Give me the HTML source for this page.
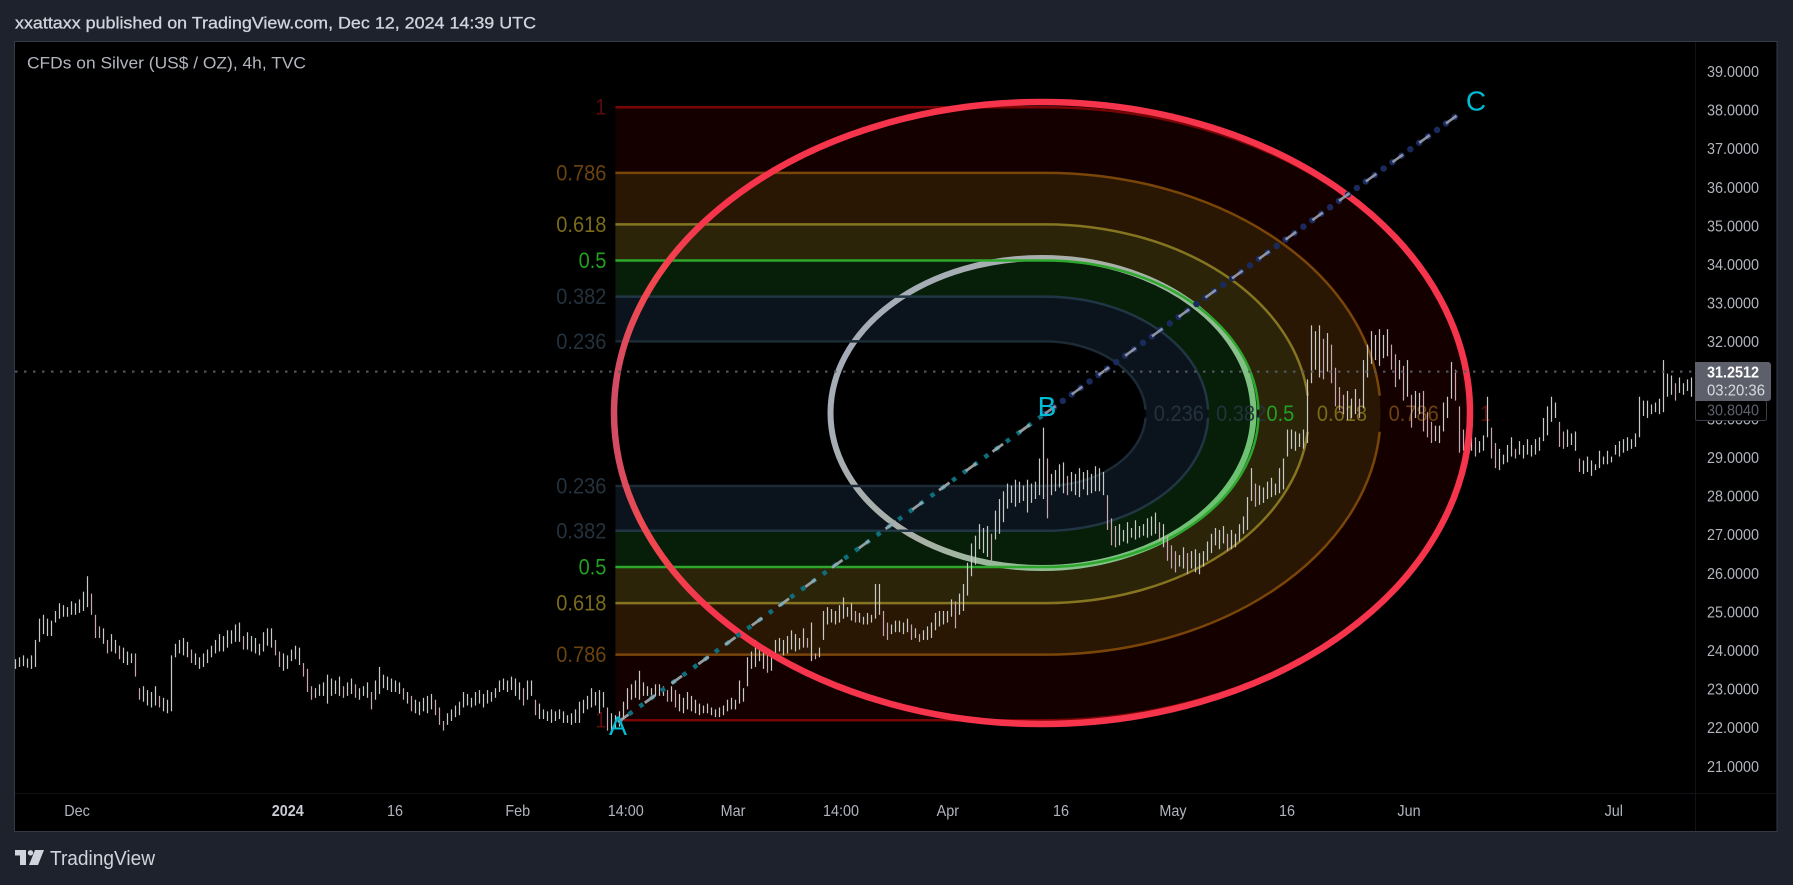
<!DOCTYPE html>
<html lang="en">
<head>
<meta charset="utf-8">
<title>CFDs on Silver 4h chart</title>
<style>
html,body{margin:0;padding:0;background:#1e222d;width:1793px;height:885px;overflow:hidden}
svg{display:block}
text{font-family:"Liberation Sans",sans-serif}
</style>
</head>
<body>
<svg id="root" xmlns="http://www.w3.org/2000/svg" width="1793" height="885" viewBox="0 0 1793 885">
  <defs>
    <linearGradient id="outerGrad" gradientUnits="userSpaceOnUse" x1="612" y1="0" x2="710" y2="0">
      <stop offset="0" stop-color="#d04c66"/>
      <stop offset="0.3" stop-color="#ee4a50"/>
      <stop offset="1" stop-color="#f6344c"/>
    </linearGradient>
    <linearGradient id="innerGrad" gradientUnits="userSpaceOnUse" x1="830" y1="260" x2="1250" y2="570">
      <stop offset="0" stop-color="#a4abbd"/>
      <stop offset="0.45" stop-color="#aab0a8"/>
      <stop offset="0.72" stop-color="#8cc08f"/>
      <stop offset="1" stop-color="#50c455"/>
    </linearGradient>
  </defs>
  <rect x="0" y="0" width="1793" height="885" fill="#1e222d"/>
  <text x="15" y="23" dominant-baseline="central" font-size="17" fill="#d1d4dc" stroke="#d1d4dc" stroke-width="0.3" textLength="521" lengthAdjust="spacingAndGlyphs">xxattaxx published on TradingView.com, Dec 12, 2024 14:39 UTC</text>
  <rect x="14.5" y="41.5" width="1762.5" height="790" fill="#000" stroke="#363a45" stroke-width="1"/>
  <g id="bands"></g>
  <ellipse cx="1042" cy="413" rx="211.5" ry="155" fill="none" stroke="url(#innerGrad)" stroke-width="6"/>
  <g id="levels"></g>
  <g id="bars"></g>
  <ellipse cx="1042" cy="413" rx="428" ry="311" fill="none" stroke="url(#outerGrad)" stroke-width="6.5"/>
  <g id="abc"></g>
  <g id="lastLine"></g>
  <line x1="1695.5" y1="42" x2="1695.5" y2="831" stroke="#121318" stroke-width="1"/>
  <line x1="15" y1="793.5" x2="1776" y2="793.5" stroke="#121318" stroke-width="1"/>
  <g id="priceAxis"></g>
  <g id="timeAxis"></g>
  <text x="27" y="63.5" dominant-baseline="central" font-size="16.5" fill="#b2b5be" textLength="279" lengthAdjust="spacingAndGlyphs">CFDs on Silver (US$ / OZ), 4h, TVC</text>
  <g>
    <rect x="1695.5" y="400.5" width="71" height="20" rx="2" fill="#000" stroke="#3a3d47" stroke-width="1"/>
    <text x="1707" y="411" dominant-baseline="central" font-size="16" fill="#5d606b" textLength="52" lengthAdjust="spacingAndGlyphs">30.8040</text>
  </g>
  <g>
    <path d="M1695 362H1768a3 3 0 0 1 3 3V398a3 3 0 0 1 -3 3H1695Z" fill="#5d606b"/>
    <text x="1707" y="373" dominant-baseline="central" font-size="16" font-weight="700" fill="#fff" textLength="52" lengthAdjust="spacingAndGlyphs">31.2512</text>
    <text x="1707" y="391" dominant-baseline="central" font-size="15.5" fill="#d8dae0" textLength="58" lengthAdjust="spacingAndGlyphs">03:20:36</text>
  </g>
  <g>
    <path d="M15 850H26V865H20V855.500H15ZM35 850H44L38 865H29Z" fill="#d1d4dc"/>
    <circle cx="30.500" cy="852.800" r="2.700" fill="#d1d4dc"/>
    <text x="50" y="859" dominant-baseline="central" font-size="20" fill="#d1d4dc" textLength="105" lengthAdjust="spacingAndGlyphs">TradingView</text>
  </g>
</svg>
<script>
const highs = [
23.80,23.85,23.90,23.82,23.90,24.30,
24.85,24.95,24.85,24.80,
25.05,25.25,25.20,25.15,25.30,25.25,25.35,
25.55,25.95,25.50,
24.95,
24.65,24.60,24.30,24.45,24.30,
24.15,24.10,24.00,23.95,23.95,
23.05,23.10,23.00,22.95,23.10,22.85,22.80,22.75,
23.90,
24.20,24.30,24.35,24.25,
24.05,23.95,23.85,23.95,
24.05,24.15,24.30,24.45,24.40,
24.55,24.55,24.70,24.75,
24.40,24.50,24.40,24.35,24.20,24.50,
24.60,24.60,24.30,
24.00,23.95,23.90,
24.05,24.15,24.10,
23.70,23.55,
23.10,23.05,23.15,23.20,23.40,23.30,23.25,23.35,23.10,23.20,23.30,23.15,23.05,23.10,23.20,22.95,
23.25,23.60,
23.40,23.35,23.30,23.25,23.20,23.05,
22.95,22.85,22.75,22.70,22.80,22.85,22.90,22.75,22.55,
22.20,22.40,22.50,22.60,22.70,
22.95,22.90,22.80,22.95,23.00,22.90,23.00,22.95,
23.05,23.25,23.30,23.25,23.35,23.30,23.20,23.05,23.25,23.25,
22.75,22.65,22.50,22.45,22.50,22.45,22.50,22.45,22.35,22.40,22.50,
22.70,22.75,22.85,23.05,22.95,23.00,22.95,
22.55,22.40,22.35,
22.45,22.70,23.05,23.15,23.25,
23.50,
23.20,23.10,23.05,23.15,23.15,23.10,23.00,23.10,
23.00,22.90,22.80,22.95,22.85,
22.75,22.65,22.60,22.65,22.55,22.50,22.55,
22.60,22.75,22.80,22.75,23.25,
23.05,23.85,
24.00,24.30,24.05,24.10,23.95,23.85,
24.30,24.35,24.30,24.40,
24.55,24.45,24.35,24.60,24.35,
24.75,23.95,24.10,
25.05,25.15,25.10,25.05,
25.20,25.40,25.15,25.25,25.05,25.00,24.90,25.00,24.95,
25.75,25.75,
25.05,24.75,24.70,24.80,24.80,24.75,24.85,24.70,
24.60,24.45,24.55,24.65,24.75,
25.00,25.05,25.05,25.05,
25.35,25.30,25.50,
25.75,26.30,
26.80,27.00,
27.30,27.20,27.25,27.05,
27.65,27.95,28.15,
28.35,28.30,28.45,28.40,28.30,28.45,28.35,28.40,
29.00,29.80,29.00,
28.60,28.70,28.85,28.90,28.55,28.65,28.60,28.75,28.65,28.70,28.60,28.80,28.75,28.65,
28.05,27.45,
27.25,27.30,27.15,27.35,27.20,27.40,27.25,27.30,27.45,27.50,27.60,27.35,27.30,
27.00,26.75,26.60,26.50,26.70,26.55,26.60,26.65,26.55,26.60,
26.85,27.05,27.20,27.15,27.25,27.05,27.15,27.05,27.30,27.50,
28.00,28.75,28.35,28.30,28.25,28.40,28.50,28.35,28.75,
29.00,29.75,29.75,29.70,29.65,29.75,
31.05,
32.45,32.30,32.45,32.10,32.25,31.95,
31.35,30.85,30.65,30.75,30.55,30.80,30.55,
31.55,
31.95,32.30,32.20,32.35,32.20,32.35,31.95,
31.70,31.55,31.40,31.55,
30.65,30.75,30.70,30.75,
30.20,29.95,29.85,29.85,
30.45,30.60,
31.50,31.30,30.35,
29.75,29.90,30.00,
29.55,29.45,29.60,30.60,
29.80,29.40,29.25,
29.10,29.35,29.55,29.25,29.45,29.35,29.50,29.35,29.50,29.55,
30.05,30.35,
30.60,30.45,
29.95,
29.70,29.75,29.65,29.70,
29.00,28.95,29.05,28.95,28.85,
29.20,29.05,29.20,29.05,
29.35,29.45,29.50,29.55,29.50,29.65,
30.60,
30.50,30.50,30.40,30.45,30.55,
31.55,
31.20,31.15,30.95,31.10,30.95,31.05,31.10
];
const lows = [
23.55,23.60,23.62,23.58,23.55,23.60,
24.25,24.45,24.40,24.40,
24.75,24.85,24.90,24.90,24.95,24.95,25.00,
25.05,25.15,24.95,
24.35,
24.35,24.20,23.95,24.00,23.95,
23.80,23.70,23.65,23.70,23.35,
22.75,22.70,22.60,22.55,22.60,22.55,22.45,22.40,
22.45,
23.85,23.95,23.90,23.85,
23.70,23.65,23.55,23.60,
23.70,23.85,23.95,24.00,24.00,
24.10,24.20,24.25,24.25,
24.05,24.05,24.00,23.95,23.90,24.00,
24.15,24.10,23.90,
23.60,23.50,23.55,
23.75,23.80,23.65,
23.35,22.95,
22.75,22.80,22.85,22.85,22.65,22.85,22.90,22.85,22.80,22.85,22.90,22.80,22.75,22.85,22.80,22.50,
22.75,22.90,
23.05,23.00,22.95,22.95,22.90,22.75,
22.65,22.45,22.40,22.35,22.45,22.40,22.50,22.35,22.10,
21.95,22.10,22.20,22.30,22.35,
22.55,22.60,22.55,22.60,22.65,22.55,22.65,22.70,
22.80,22.95,23.00,22.95,23.00,22.85,22.75,22.60,22.75,22.85,
22.35,22.25,22.25,22.20,22.15,22.20,22.25,22.15,22.15,22.10,22.15,
22.15,22.40,22.50,22.55,22.60,22.40,22.55,
21.95,21.95,22.00,
22.05,22.25,22.50,22.75,22.80,
22.75,
22.85,22.85,22.80,22.85,22.85,22.85,22.70,22.70,
22.55,22.45,22.40,22.50,22.45,
22.40,22.35,22.40,22.40,22.35,22.30,22.30,
22.35,22.45,22.50,22.50,22.65,
22.70,23.10,
23.55,23.60,23.75,23.55,23.45,23.50,
23.85,24.00,23.90,23.95,
24.05,24.00,24.05,24.10,24.10,
23.75,23.80,23.85,
24.30,24.70,24.75,24.70,
24.75,24.85,24.90,24.80,24.75,24.75,24.70,24.70,24.75,
24.85,24.95,
24.40,24.30,24.45,24.50,24.50,24.45,24.50,24.30,
24.35,24.25,24.30,24.30,24.35,
24.55,24.65,24.70,24.75,
24.90,24.60,24.95,
25.05,25.45,
25.95,26.25,
26.65,26.55,26.45,26.35,
26.90,27.05,27.35,
27.70,27.85,27.75,27.85,27.90,27.60,27.85,27.95,
28.05,27.95,27.45,
28.05,28.15,28.25,28.10,28.05,28.15,28.05,28.00,28.20,28.05,28.10,28.15,28.15,28.05,
27.15,26.75,
26.70,26.75,26.85,26.80,26.95,26.90,26.95,27.00,26.95,27.00,27.05,26.85,26.70,
26.35,26.15,26.05,26.20,26.15,26.00,26.15,26.05,26.00,26.20,
26.35,26.55,26.75,26.65,26.80,26.60,26.65,26.70,26.85,27.05,
27.15,27.90,27.75,27.80,27.85,27.95,28.00,28.05,28.10,
28.20,29.05,29.25,29.20,29.30,29.25,
29.40,
30.95,31.30,31.10,31.05,31.25,30.95,
30.35,30.25,30.15,30.00,30.05,30.15,30.05,
30.30,
31.10,31.45,31.55,31.40,31.60,31.65,31.30,
30.85,31.05,30.50,30.60,
29.80,30.05,30.15,29.70,
29.55,29.40,29.45,29.40,
29.70,30.05,
30.55,30.50,29.15,
29.20,29.10,29.20,
29.05,29.15,29.20,29.55,
29.00,28.75,28.70,
28.85,28.90,29.05,29.00,29.10,29.00,29.10,29.05,29.10,29.20,
29.45,29.60,
29.95,30.05,
29.30,
29.25,29.30,29.35,29.20,
28.65,28.60,28.65,28.55,28.70,
28.75,28.85,28.85,28.90,
29.10,29.05,29.15,29.20,29.25,29.30,
29.55,
30.10,30.05,30.15,30.20,30.15,
30.20,
30.60,30.65,30.50,30.70,30.65,30.75,30.60
];
const priceTicks = [39,38,37,36,35,34,33,32,30,29,28,27,26,25,24,23,22,21];
const timeLabels = ["Dec","2024","16","Feb","14:00","Mar","14:00","Apr","16","May","16","Jun","Jul"];
const timeBars = [15.5,68.2,95,125.7,152.7,179.5,206.5,233.2,261.5,289.5,318,348.5,399.7];
const fibLevels = [0.236,0.382,0.5,0.618,0.786,1];
const fibLabels = ["0.236","0.382","0.5","0.618","0.786","1"];
const fibLineColors = ["#1c2b36","#203644","#2da82d","#857520","#7a4508","#7a0505"];
const fibTextColors = ["#24323e","#24323e","#22a022","#7a6c1a","#6b4310","#5c0a0a"];
const fibBandColors = ["#0b131c","#071e08","#2b2409","#291603","#150000"];
const fibTopPrice = 38.10;
const fibBottomPrice = 22.22;
const fibLeftBar = 150.1;
const fibCenterBar = 257.5;
const fibRightBar = 364.25;
const lastPrice = 31.2512;
const abcLabels = ["A","B","C"];
const abcBars = [150.75,257.5,362];
const abcPrices = [22.17,30.16,38.0];

const NS = "http://www.w3.org/2000/svg";
const BAR_STEP = 4, X_ORIGIN = 15, PX_PER_UNIT = 38.6, Y_AT_32 = 342.7;
function xScale(i){ return X_ORIGIN + i * BAR_STEP; }
function yScale(p){ return Y_AT_32 + (32 - p) * PX_PER_UNIT; }
function make(tag, parent, attrs, txt){
  const el = document.createElementNS(NS, tag);
  for (const k in attrs) el.setAttribute(k, attrs[k]);
  if (txt !== undefined) el.textContent = txt;
  parent.appendChild(el);
  return el;
}
function condense(el, factor){
  const w = el.getComputedTextLength();
  el.setAttribute("textLength", (w * factor).toFixed(1));
  el.setAttribute("lengthAdjust", "spacingAndGlyphs");
}
const cy = (yScale(fibTopPrice) + yScale(fibBottomPrice)) / 2;
const ryFull = (yScale(fibBottomPrice) - yScale(fibTopPrice)) / 2;
const cx = xScale(fibCenterBar);
const rxFull = xScale(fibRightBar) - cx;
const leftX = xScale(fibLeftBar);
function outline(level){
  const rx = rxFull * level, ry = ryFull * level;
  return "M" + leftX + " " + (cy - ry) + "L" + cx + " " + (cy - ry) + "A" + rx + " " + ry + " 0 0 1 " + cx + " " + (cy + ry) + "L" + leftX + " " + (cy + ry);
}
function reverseOutline(level){
  const rx = rxFull * level, ry = ryFull * level;
  return "L" + leftX + " " + (cy + ry) + "L" + cx + " " + (cy + ry) + "A" + rx + " " + ry + " 0 0 0 " + cx + " " + (cy - ry) + "L" + leftX + " " + (cy - ry) + "Z";
}
const bandsG = document.getElementById("bands");
fibBandColors.forEach(function(color, i){
  const el = make("path", bandsG, {d: outline(fibLevels[i + 1]) + reverseOutline(fibLevels[i]), fill: color});
  
  
});
const levelsG = document.getElementById("levels");
fibLevels.forEach(function(level, i){
  const rx = rxFull * level, ry = ryFull * level;
  const gap = level > 0.55 && level < 1 ? 18 : 4;
  const ex = cx + rx * Math.sqrt(1 - (gap / ry) * (gap / ry));
  const d = "M" + leftX + " " + (cy - ry) + "L" + cx + " " + (cy - ry) + "A" + rx + " " + ry + " 0 0 1 " + ex + " " + (cy - gap) +
            "M" + ex + " " + (cy + gap) + "A" + rx + " " + ry + " 0 0 1 " + cx + " " + (cy + ry) + "L" + leftX + " " + (cy + ry);
  const line = make("path", levelsG, {d: d, fill: "none", stroke: fibLineColors[i], "stroke-width": 2.5});
  
  
  [cy - ry, cy + ry].forEach(function(y){
    const t = make("text", levelsG, {x: leftX - 9, y: y, "text-anchor": "end", "dominant-baseline": "central", "font-size": 22, fill: fibTextColors[i]}, fibLabels[i]);
    
    
    condense(t, 0.91);
  });
  const t2 = make("text", levelsG, {x: cx + rx + 8, y: cy, "dominant-baseline": "central", "font-size": 22, fill: fibTextColors[i]}, fibLabels[i]);
  
  
  condense(t2, 0.91);
});
const barsG = document.getElementById("bars");
highs.forEach(function(h, i){
  const l = lows[i];
  const prevMid = i > 0 ? (highs[i - 1] + lows[i - 1]) / 2 : (h + l) / 2;
  const falling = (h + l) / 2 < prevMid - 0.12;
  const x = Math.round(xScale(i)) + 0.5;
  const bar = make("line", barsG, {x1: x, x2: x, y1: yScale(h), y2: yScale(l), stroke: falling ? "#c9a6b4" : "#c6cbc8", "stroke-width": 1.2});
  
  
});
const abcG = document.getElementById("abc");
function segment(a, b, dotColor, dotWidth, dotDash, cap, dashColor, dashWidth){
  const p = {x1: xScale(abcBars[a]), y1: yScale(abcPrices[a]), x2: xScale(abcBars[b]), y2: yScale(abcPrices[b])};
  const dots = make("line", abcG, Object.assign({stroke: dotColor, "stroke-width": dotWidth, "stroke-dasharray": dotDash, "stroke-linecap": cap}, p));
  
  
  const dash = make("line", abcG, Object.assign({stroke: dashColor, "stroke-width": dashWidth, "stroke-dasharray": "13 20", "stroke-opacity": 0.9}, p));
  
  
}
segment(0, 1, "#0e6e7c", 4.5, "4.500 8.800", "butt", "#a3adb3", 2.8);
segment(1, 2, "#1a2a5c", 6.5, "0 11", "round", "#9aa0b0", 2.6);
const abcOffsetX = [0, 2, 13];
const abcOffsetY = [4, -7, -10];
const abcSizes = [27, 28, 28];
abcLabels.forEach(function(name, i){
  const t = make("text", abcG, {x: xScale(abcBars[i]) + abcOffsetX[i], y: yScale(abcPrices[i]) + abcOffsetY[i], "text-anchor": "middle", "dominant-baseline": "central", "font-size": abcSizes[i], fill: "#00bcd4"}, name);
  
  
});
const lastG = document.getElementById("lastLine");
const lastEl = make("line", lastG, {x1: 15, x2: 1695, y1: yScale(lastPrice), y2: yScale(lastPrice), stroke: "#565962", "stroke-width": 2, "stroke-dasharray": "2.500 6.500"});


const priceG = document.getElementById("priceAxis");
priceTicks.forEach(function(p){
  const t = make("text", priceG, {x: 1707, y: yScale(p), "dominant-baseline": "central", "font-size": 16, fill: "#b2b5be", textLength: 52, lengthAdjust: "spacingAndGlyphs"}, p.toFixed(4));
  
  
});
const timeG = document.getElementById("timeAxis");
timeLabels.forEach(function(label, i){
  const isYear = label === "2024";
  const t = make("text", timeG, {x: xScale(timeBars[i]), y: 811.7, "text-anchor": "middle", "dominant-baseline": "central", "font-size": 16, "font-weight": isYear ? 700 : 400, fill: isYear ? "#c9ccd4" : "#b2b5be"}, label);
  
  
  condense(t, 0.9);
});
</script>
</body>
</html>
